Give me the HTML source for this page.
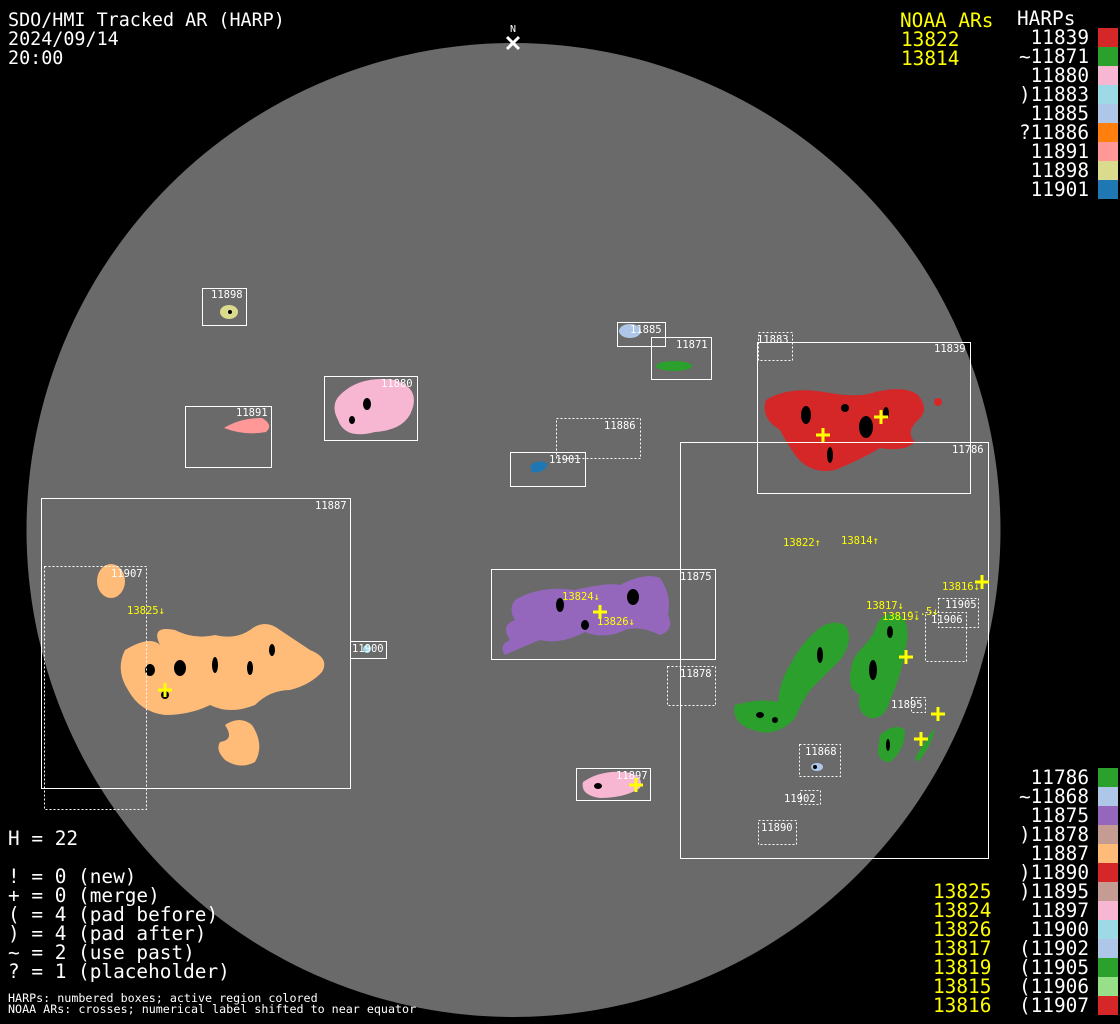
<!DOCTYPE html>
<html><head><meta charset="utf-8"><style>
html,body{margin:0;padding:0;background:#000;width:1120px;height:1024px;overflow:hidden}
svg{display:block}
text{font-family:"DejaVu Sans Mono","Liberation Mono",monospace}
.big{font-size:18.4px;fill:#fff}
.leg{font-size:19.4px;fill:#fff}
.y{fill:#ffff00}
.lb{font-size:10.5px;fill:#fff}
.yl{font-size:10.5px;fill:#ffff00}
.b{fill:none;stroke:#fff;stroke-width:1}
.d{fill:none;stroke:#fff;stroke-width:1;stroke-dasharray:2 2}
.x{stroke:#ffff00;stroke-width:3}
</style></head><body>
<svg width="1120" height="1024" viewBox="0 0 1120 1024">
<circle cx="513.5" cy="530" r="487" fill="#6a6a6a"/>
<text x="513" y="32" font-size="10" fill="#fff" text-anchor="middle">N</text>
<path d="M507 37 L519 49 M519 37 L507 49" stroke="#fff" stroke-width="3"/>
<text class="big" x="8" y="26">SDO/HMI Tracked AR (HARP)</text>
<text class="big" x="8" y="45">2024/09/14</text>
<text class="big" x="8" y="64">20:00</text>
<text class="leg y" x="900" y="27">NOAA ARs</text>
<text class="leg" x="1017" y="25">HARPs</text>
<text class="leg y" x="901" y="46">13822</text>
<text class="leg y" x="901" y="65">13814</text>
<g class="leg" text-anchor="end">
<text x="1089" y="44">11839</text><text x="1089" y="63">~11871</text><text x="1089" y="82">11880</text>
<text x="1089" y="101">)11883</text><text x="1089" y="120">11885</text><text x="1089" y="139">?11886</text>
<text x="1089" y="158">11891</text><text x="1089" y="177">11898</text><text x="1089" y="196">11901</text>
</g>
<rect x="1098" y="28" width="20" height="19" fill="#d62728"/>
<rect x="1098" y="47" width="20" height="19" fill="#2ca02c"/>
<rect x="1098" y="66" width="20" height="19" fill="#f7b6d2"/>
<rect x="1098" y="85" width="20" height="19" fill="#9edae5"/>
<rect x="1098" y="104" width="20" height="19" fill="#aec7e8"/>
<rect x="1098" y="123" width="20" height="19" fill="#ff7f0e"/>
<rect x="1098" y="142" width="20" height="19" fill="#ff9896"/>
<rect x="1098" y="161" width="20" height="19" fill="#dbdb8d"/>
<rect x="1098" y="180" width="20" height="19" fill="#1f77b4"/>
<g class="leg" text-anchor="end">
<text x="1089" y="784">11786</text><text x="1089" y="803">~11868</text><text x="1089" y="822">11875</text>
<text x="1089" y="841">)11878</text><text x="1089" y="860">11887</text><text x="1089" y="879">)11890</text>
<text x="1089" y="898">)11895</text><text x="1089" y="917">11897</text><text x="1089" y="936">11900</text>
<text x="1089" y="955">(11902</text><text x="1089" y="974">(11905</text><text x="1089" y="993">(11906</text>
<text x="1089" y="1012">(11907</text>
</g>
<g class="leg y">
<text x="933" y="898">13825</text><text x="933" y="917">13824</text><text x="933" y="936">13826</text>
<text x="933" y="955">13817</text><text x="933" y="974">13819</text><text x="933" y="993">13815</text>
<text x="933" y="1012">13816</text>
</g>
<rect x="1098" y="768" width="20" height="19" fill="#2ca02c"/>
<rect x="1098" y="787" width="20" height="19" fill="#aec7e8"/>
<rect x="1098" y="806" width="20" height="19" fill="#9467bd"/>
<rect x="1098" y="825" width="20" height="19" fill="#c49c94"/>
<rect x="1098" y="844" width="20" height="19" fill="#ffbb78"/>
<rect x="1098" y="863" width="20" height="19" fill="#d62728"/>
<rect x="1098" y="882" width="20" height="19" fill="#c49c94"/>
<rect x="1098" y="901" width="20" height="19" fill="#f7b6d2"/>
<rect x="1098" y="920" width="20" height="19" fill="#9edae5"/>
<rect x="1098" y="939" width="20" height="19" fill="#aec7e8"/>
<rect x="1098" y="958" width="20" height="19" fill="#2ca02c"/>
<rect x="1098" y="977" width="20" height="19" fill="#98df8a"/>
<rect x="1098" y="996" width="20" height="19" fill="#d62728"/>
<text class="leg" x="8" y="845">H = 22</text>
<text class="leg" x="8" y="883">! = 0 (new)</text>
<text class="leg" x="8" y="902">+ = 0 (merge)</text>
<text class="leg" x="8" y="921">( = 4 (pad before)</text>
<text class="leg" x="8" y="940">) = 4 (pad after)</text>
<text class="leg" x="8" y="959">~ = 2 (use past)</text>
<text class="leg" x="8" y="978">? = 1 (placeholder)</text>
<text x="8" y="1002" font-size="11.7" fill="#fff">HARPs: numbered boxes; active region colored</text>
<text x="8" y="1013" font-size="11.7" fill="#fff">NOAA ARs: crosses; numerical label shifted to near equator</text>

<ellipse cx="229" cy="312" rx="9" ry="7" fill="#dbdb8d"/>
<ellipse cx="630" cy="331" rx="11" ry="7" fill="#aec7e8"/>
<ellipse cx="674" cy="366" rx="18" ry="5" fill="#2ca02c"/>
<path d="M340 395 Q360 375 395 380 Q420 388 412 410 Q405 430 375 432 Q345 440 338 420 Q330 405 340 395Z" fill="#f7b6d2"/>
<path d="M224 428 Q240 418 262 418 Q274 425 266 432 Q245 436 224 428Z" fill="#ff9896"/>
<path d="M530 466 Q538 458 548 464 Q544 474 532 472Z" fill="#1f77b4"/>
<path d="M766 400 Q790 385 830 393 Q860 398 875 392 Q905 385 918 395 Q930 410 918 420 Q905 432 915 442 Q905 452 880 448 Q860 460 835 470 Q810 475 795 455 Q785 440 780 430 Q760 418 766 400Z" fill="#d62728"/>
<circle cx="938" cy="402" r="4" fill="#d62728"/>
<path d="M515 600 Q540 585 575 590 Q610 582 620 585 Q645 572 660 578 Q672 595 668 615 Q675 630 660 635 Q640 625 625 630 Q605 640 585 632 Q560 645 540 640 Q520 648 505 655 Q498 645 510 640 Q500 625 515 620 Q508 610 515 600Z" fill="#9467bd"/>
<ellipse cx="111" cy="581" rx="14" ry="17" fill="#ffbb78"/>
<path d="M125 650 Q150 635 160 645 Q150 625 175 630 Q195 640 215 635 Q235 640 250 630 Q265 618 280 630 Q295 640 310 650 Q330 658 322 672 Q310 685 290 690 Q270 690 255 705 Q230 715 210 705 Q190 715 165 715 Q140 712 128 690 Q115 670 125 650Z" fill="#ffbb78"/>
<path d="M225 725 Q240 715 252 725 Q265 745 255 762 Q240 770 225 760 Q215 750 220 742 Q235 740 225 725Z" fill="#ffbb78"/>
<circle cx="367" cy="649" r="4" fill="#9edae5"/>
<path d="M583 782 Q600 770 625 772 Q645 775 640 788 Q625 798 600 798 Q580 795 583 782Z" fill="#f7b6d2"/>
<ellipse cx="817" cy="767" rx="6" ry="4" fill="#aec7e8"/>
<path d="M735 705 Q760 698 778 702 Q780 680 790 665 Q800 645 815 632 Q830 618 845 625 Q855 640 840 660 Q820 680 810 690 Q800 705 795 718 Q780 735 760 732 Q730 725 735 705Z" fill="#2ca02c"/>
<path d="M860 650 Q870 640 875 630 Q880 610 900 615 Q912 625 905 650 Q900 680 890 700 Q885 720 870 718 Q855 712 860 695 Q850 690 850 680 Q850 660 860 650Z" fill="#2ca02c"/>
<path d="M880 735 Q895 722 905 730 Q905 750 890 762 Q878 762 878 750Z" fill="#2ca02c"/>
<path d="M915 758 Q925 740 935 728 Q932 745 918 762Z" fill="#2ca02c"/>

<!-- sunspot dark cores -->
<g fill="#000">
<ellipse cx="866" cy="427" rx="7" ry="11"/><ellipse cx="806" cy="415" rx="5" ry="9"/><ellipse cx="830" cy="455" rx="3" ry="8"/>
<ellipse cx="886" cy="413" rx="3" ry="6"/><ellipse cx="845" cy="408" rx="4" ry="4"/>
<ellipse cx="633" cy="597" rx="6" ry="8"/><ellipse cx="560" cy="605" rx="4" ry="7"/><ellipse cx="585" cy="625" rx="4" ry="5"/>
<ellipse cx="180" cy="668" rx="6" ry="8"/><ellipse cx="150" cy="670" rx="5" ry="6"/><ellipse cx="215" cy="665" rx="3" ry="8"/>
<ellipse cx="250" cy="668" rx="3" ry="7"/><ellipse cx="272" cy="650" rx="3" ry="6"/><ellipse cx="165" cy="695" rx="4" ry="4"/>
<ellipse cx="367" cy="404" rx="4" ry="6"/><ellipse cx="352" cy="420" rx="3" ry="4"/>
<ellipse cx="598" cy="786" rx="4" ry="3"/><ellipse cx="230" cy="312" rx="2" ry="2"/>
<ellipse cx="873" cy="670" rx="4" ry="10"/><ellipse cx="890" cy="632" rx="3" ry="6"/>
<ellipse cx="820" cy="655" rx="3" ry="8"/><ellipse cx="760" cy="715" rx="4" ry="3"/><ellipse cx="775" cy="720" rx="3" ry="3"/>
<ellipse cx="888" cy="745" rx="2" ry="6"/><ellipse cx="815" cy="767" rx="2" ry="2"/>
</g>

<rect class="b" x="202.5" y="288.5" width="44" height="37"/>
<rect class="b" x="617.5" y="322.5" width="48" height="24"/>
<rect class="b" x="651.5" y="337.5" width="60" height="42"/>
<rect class="d" x="758.5" y="332.5" width="34" height="28"/>
<rect class="b" x="757.5" y="342.5" width="213" height="151"/>
<rect class="b" x="324.5" y="376.5" width="93" height="64"/>
<rect class="b" x="185.5" y="406.5" width="86" height="61"/>
<rect class="d" x="556.5" y="418.5" width="84" height="40"/>
<rect class="b" x="510.5" y="452.5" width="75" height="34"/>
<rect class="b" x="680.5" y="442.5" width="308" height="416"/>
<rect class="b" x="41.5" y="498.5" width="309" height="290"/>
<rect class="d" x="44.5" y="566.5" width="102" height="243"/>
<rect class="b" x="491.5" y="569.5" width="224" height="90"/>
<rect class="b" x="350.5" y="641.5" width="36" height="17"/>
<rect class="d" x="667.5" y="666.5" width="48" height="39"/>
<rect class="d" x="938.5" y="598.5" width="40" height="29"/>
<rect class="d" x="925.5" y="612.5" width="41" height="49"/>
<rect class="d" x="911.5" y="697.5" width="14" height="15"/>
<rect class="d" x="799.5" y="744.5" width="41" height="32"/>
<rect class="b" x="576.5" y="768.5" width="74" height="32"/>
<rect class="d" x="800.5" y="790.5" width="20" height="14"/>
<rect class="d" x="758.5" y="820.5" width="38" height="24"/>

<g class="lb">
<text x="211" y="298">11898</text><text x="630" y="333">11885</text><text x="676" y="348">11871</text>
<text x="757" y="343">11883</text><text x="934" y="352">11839</text><text x="381" y="387">11880</text>
<text x="236" y="416">11891</text><text x="604" y="429">11886</text><text x="549" y="463">11901</text>
<text x="952" y="453">11786</text><text x="315" y="509">11887</text><text x="111" y="577">11907</text>
<text x="680" y="580">11875</text><text x="352" y="652">11900</text><text x="680" y="677">11878</text>
<text x="945" y="608">11905</text><text x="931" y="623">11906</text><text x="891" y="708">11895</text>
<text x="805" y="755">11868</text><text x="616" y="779">11897</text><text x="784" y="802">11902</text>
<text x="761" y="831">11890</text>
</g>
<g class="yl">
<text x="783" y="546">13822↑</text><text x="841" y="544">13814↑</text>
<text x="562" y="600">13824↓</text><text x="597" y="625">13826↓</text>
<text x="127" y="614">13825↓</text><text x="866" y="609">13817↓</text>
<text x="882" y="620">13819↓</text><text x="942" y="590">13816↓</text>
<text x="907" y="615">--.5↓</text>
</g>
<g class="x">
<path d="M816 435h14M823 428v14"/><path d="M874 417h14M881 410v14"/>
<path d="M593 612h14M600 605v14"/><path d="M899 657h14M906 650v14"/>
<path d="M931 714h14M938 707v14"/><path d="M914 739h14M921 732v14"/>
<path d="M975 582h14M982 575v14"/><path d="M158 690h14M165 683v14"/>
<path d="M629 785h14M636 778v14"/>
</g>
</svg>
</body></html>
